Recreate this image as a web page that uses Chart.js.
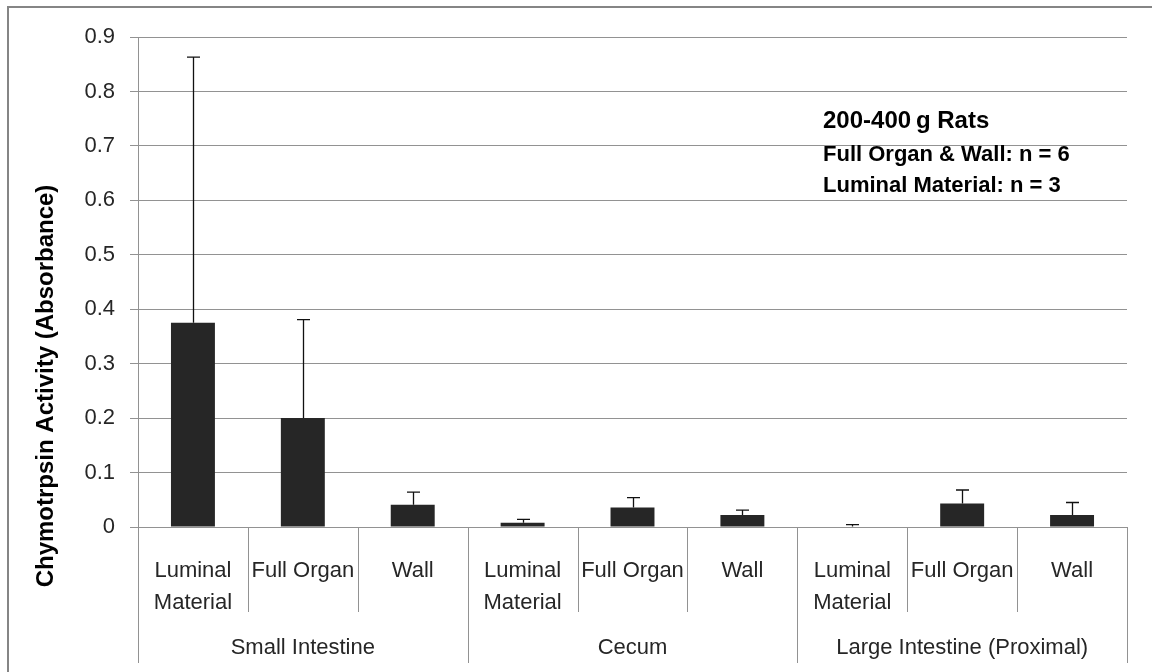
<!DOCTYPE html>
<html>
<head>
<meta charset="utf-8">
<title>Chymotrypsin activity by gut region</title>
<script src="https://cdn.jsdelivr.net/npm/chart.js@4/dist/chart.umd.min.js"></script>
<style>
    html, body { margin: 0; padding: 0; background: #fff; }
    #wrap { width: 1152px; height: 672px; position: relative; }
</style>
</head>
<body>
<div id="wrap"><canvas id="myChart"></canvas></div>
<script>
const subLabels = [
    ['Luminal', 'Material'], 'Full Organ', 'Wall',
    ['Luminal', 'Material'], 'Full Organ', 'Wall',
    ['Luminal', 'Material'], 'Full Organ', 'Wall'
];
const groups = ['Small Intestine', 'Cecum', 'Large Intestine (Proximal)'];
const means = [0.375, 0.200, 0.041, 0.008, 0.036, 0.022, 0.001, 0.043, 0.022];
const errors = [0.488, 0.181, 0.023, 0.006, 0.018, 0.009, 0.0035, 0.025, 0.023];
const yTicks = [0, 0.1, 0.2, 0.3, 0.4, 0.5, 0.6, 0.7, 0.8, 0.9];
const notes = ['200-400\u2009g Rats', 'Full Organ & Wall: n = 6', 'Luminal Material: n = 3'];
const yTitle = 'Chymotrpsin Activity (Absorbance)';

const FONT = "'Liberation Sans', Arial, sans-serif";
const GRID = '#929292';
const TEXT = '#262626';

// frame, y title, separators, group names, error bars, notes
const extras = {
    id: 'extras',
    beforeDraw(chart) {
        const ctx = chart.ctx;
        ctx.save();
        ctx.fillStyle = '#fff';
        ctx.fillRect(0, 0, chart.width, chart.height);
        ctx.strokeStyle = '#858585';
        ctx.lineWidth = 2;
        ctx.beginPath();
        ctx.moveTo(8, chart.height);
        ctx.lineTo(8, 7);
        ctx.lineTo(chart.width, 7);
        ctx.stroke();
        ctx.restore();
    },
    afterDatasetsDraw(chart) {
        const ctx = chart.ctx;
        const y = chart.scales.y;
        const meta = chart.getDatasetMeta(0);
        ctx.save();
        ctx.strokeStyle = '#111';
        ctx.lineWidth = 1.3;
        meta.data.forEach((bar, i) => {
            const x = Math.round(bar.x) + 0.5;
            const top = y.getPixelForValue(means[i] + errors[i]);
            ctx.beginPath();
            ctx.moveTo(x, bar.y);
            ctx.lineTo(x, top);
            ctx.moveTo(x - 6.5, top);
            ctx.lineTo(x + 6.5, top);
            ctx.stroke();
        });
        ctx.restore();
    },
    afterDraw(chart) {
        const ctx = chart.ctx;
        const x = chart.scales.x;
        const area = chart.chartArea;
        const step = x.getPixelForValue(1) - x.getPixelForValue(0);
        ctx.save();

        // category separators under the axis
        ctx.strokeStyle = GRID;
        ctx.lineWidth = 1;
        for (let i = 0; i <= subLabels.length; i++) {
            const px = Math.round(x.getPixelForValue(0) + (i - 0.5) * step) + 0.5;
            const len = i % 3 === 0 ? 136 : 85;
            ctx.beginPath();
            ctx.moveTo(px, area.bottom);
            ctx.lineTo(px, area.bottom + len);
            ctx.stroke();
        }

        // organ names
        ctx.fillStyle = TEXT;
        ctx.font = '22px ' + FONT;
        ctx.textAlign = 'center';
        ctx.textBaseline = 'middle';
        groups.forEach((g, k) => {
            ctx.fillText(g, x.getPixelForValue(k * 3 + 1), area.bottom + 121);
        });

        // y axis title
        ctx.save();
        ctx.translate(46, 386);
        ctx.rotate(-Math.PI / 2);
        ctx.font = 'bold 24px ' + FONT;
        ctx.fillStyle = '#000';
        ctx.fillText(yTitle, 0, 0);
        ctx.restore();

        // notes block
        ctx.textAlign = 'left';
        ctx.fillStyle = '#000';
        ctx.font = 'bold 24px ' + FONT;
        ctx.fillText(notes[0], 823, 121);
        ctx.font = 'bold 22px ' + FONT;
        ctx.fillText(notes[1], 823, 155);
        ctx.fillText(notes[2], 823, 186);
        ctx.restore();
    }
};

const config = {
    type: 'bar',
    data: {
        labels: subLabels,
        datasets: [{
            label: 'Chymotrypsin',
            data: means,
            backgroundColor: '#262626',
            borderWidth: 0,
            categoryPercentage: 1,
            barPercentage: 0.4
        }]
    },
    options: {
        responsive: true,
        maintainAspectRatio: false,
        animation: false,
        plugins: {
            legend: { display: false },
            tooltip: { enabled: false }
        },
        layout: {
            padding: { top: 37, right: 25, bottom: 0, left: 0 }
        },
        scales: {
            x: {
                grid: { display: false },
                border: { color: GRID, width: 1 },
                ticks: {
                    color: TEXT,
                    font: { family: FONT, size: 22, lineHeight: 1.45 },
                    padding: 20,
                    maxRotation: 0,
                    autoSkip: false
                },
                afterFit(scale) { scale.height = 145; }
            },
            y: {
                min: 0,
                max: 0.9,
                afterBuildTicks(scale) {
                    scale.ticks = yTicks.map(v => ({ value: v }));
                },
                grid: { color: GRID, lineWidth: 1, tickLength: 8 },
                border: { color: GRID, width: 1 },
                ticks: {
                    color: TEXT,
                    font: { family: FONT, size: 22 },
                    padding: 15,
                    callback: v => String(Math.round(v * 10) / 10)
                },
                afterFit(scale) { scale.width = 138; }
            }
        }
    },
    plugins: [extras]
};

const myChart = new Chart(document.getElementById('myChart'), config);
</script>
</body>
</html>
